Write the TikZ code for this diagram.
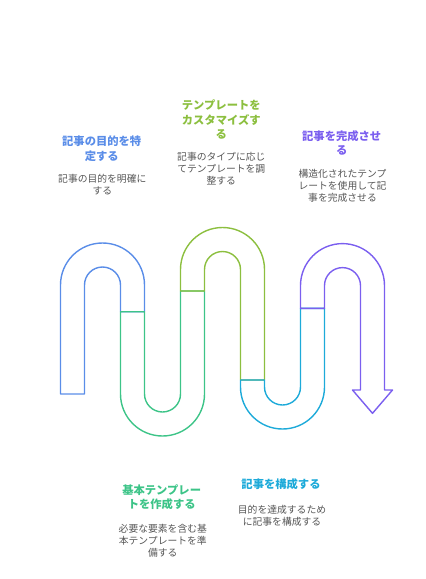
\documentclass[tikz,border=0pt]{standalone}
\usepackage{fontspec}
\newfontfamily\cjk{Noto Sans CJK JP}
\usetikzlibrary{positioning}
\definecolor{stepblue}{HTML}{5A8DE8}
\definecolor{stepgreen}{HTML}{3DC488}
\definecolor{steplime}{HTML}{8CBF3F}
\definecolor{stepcyan}{HTML}{1DAAD9}
\definecolor{steppurple}{HTML}{7B5FEF}
\definecolor{desctext}{HTML}{555555}

\begin{document}
\begin{tikzpicture}[x=1pt, y=1pt, line width=1.4pt, line join=round,
    title/.style={align=center, inner sep=0pt, font=\cjk\bfseries\fontsize{11.3}{14.5}\selectfont},
    desc/.style={align=center, inner sep=0pt, text=desctext, font=\cjk\fontsize{9.8}{12}\selectfont}]
        \useasboundingbox (0,0) rectangle (426,-579);

        % snake band, one piece per step
        \draw[stepblue] (60.5,-394) -- (60.5,-285) arc[start angle=180, end angle=0, radius=42pt]
            -- (144.5,-311.7) -- (120.5,-311.7) -- (120.5,-285) arc[start angle=0, end angle=180, radius=18pt]
            -- (84.5,-394) -- cycle;
        \draw[stepgreen] (120.5,-311.7) -- (120.5,-394) arc[start angle=180, end angle=360, radius=42pt]
            -- (204.5,-291) -- (180.5,-291) -- (180.5,-394) arc[start angle=0, end angle=-180, radius=18pt]
            -- (144.5,-311.7) -- cycle;
        \draw[steplime] (180.5,-291) -- (180.5,-269.5) arc[start angle=180, end angle=0, radius=42pt]
            -- (264.5,-380) -- (240.5,-380) -- (240.5,-269.5) arc[start angle=0, end angle=180, radius=18pt]
            -- (204.5,-291) -- cycle;
        \draw[stepcyan] (240.5,-380) -- (240.5,-387) arc[start angle=180, end angle=360, radius=42pt]
            -- (324.5,-308.3) -- (300.5,-308.3) -- (300.5,-387) arc[start angle=0, end angle=-180, radius=18pt]
            -- (264.5,-380) -- cycle;
        \draw[steppurple] (300.5,-308.3) -- (300.5,-285.6) arc[start angle=180, end angle=0, radius=42pt]
            -- (384.5,-390) -- (392.5,-390) -- (372.5,-413.3) -- (352.5,-390) -- (360.5,-390)
            -- (360.5,-285.6) arc[start angle=0, end angle=180, radius=18pt]
            -- (324.5,-308.3) -- cycle;

        % labels
        \node[title, text=stepblue] (purpose) at (101.7,-148.7) {記事の目的を特\\定する};
        \node[desc] (purposetxt) at (102.3,-185) {記事の目的を明確に\\する};
        \node[title, text=steplime] (custom) at (221.3,-119.8) {テンプレートを\\カスタマイズす\\る};
        \node[desc] (customtxt) at (221.3,-168.2) {記事のタイプに応じ\\てテンプレートを調\\整する};
        \node[title, text=steppurple] (finish) at (341.7,-143) {記事を完成させ\\る};
        \node[desc] (finishtxt) at (342.5,-185.7) {構造化されたテンプ\\レートを使用して記\\事を完成させる};
        \node[title, text=stepgreen] (base) at (161.7,-497) {基本テンプレー\\トを作成する};
        \node[desc] (basetxt) at (162.8,-540.5) {必要な要素を含む基\\本テンプレートを準\\備する};
        \node[title, text=stepcyan] (build) at (281,-484) {記事を構成する};
        \node[desc] (buildtxt) at (282,-515.8) {目的を達成するため\\に記事を構成する};
    \end{tikzpicture}
\end{document}
